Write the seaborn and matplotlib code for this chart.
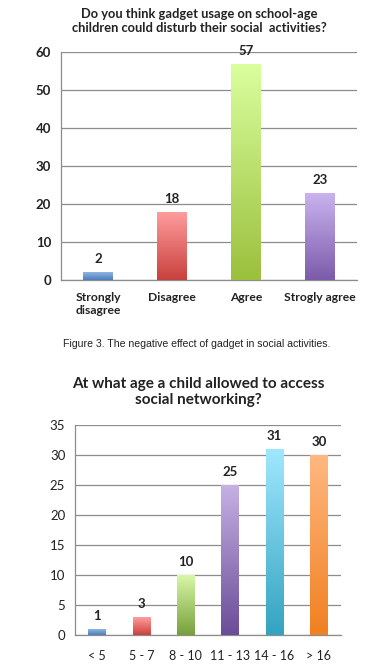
import matplotlib
matplotlib.use("Agg")
import matplotlib.pyplot as plt
import seaborn as sns
import pandas as pd
import numpy as np
from matplotlib.colors import LinearSegmentedColormap

# data
q1_labels = ["Strongly\ndisagree", "Disagree", "Agree", "Strogly agree"]
q1_values = [2, 18, 57, 23]

q2_labels = ["< 5", "5 - 7", "8 - 10", "11 - 13", "14 - 16", "> 16"]
q2_values = [1, 3, 10, 25, 31, 30]

# (top, bottom) colours of each bar gradient
q1_colors = [("#8EB4E3", "#4A7EBB"), ("#FF9E9E", "#C9413D"),
             ("#DAFF9E", "#9BC03D"), ("#CBB4F0", "#7B5BAA")]
q2_colors = [("#8EB4E3", "#4A7EBB"), ("#FF9E9E", "#C9413D"),
             ("#D9F7A8", "#77A03A"), ("#C6B1E3", "#6A4C98"),
             ("#A0E8FF", "#33A3C0"), ("#FFB880", "#F08020")]

sns.set_style("white")
plt.rcParams["font.family"] = ["Lato", "DejaVu Sans"]

GRID = "#8c8c8c"


def gradient_bars(ax, df, colors, ymax, step, tick_weight, fs, xfs, xpad):
    sns.barplot(data=df, x="cat", y="val", hue="cat", legend=False,
                palette=[c[1] for c in colors], width=0.4, ax=ax, zorder=2)
    grad = np.linspace(0, 1, 256).reshape(-1, 1)
    for patch, (top, bottom) in zip(ax.patches, colors):
        x0, y0 = patch.get_x(), patch.get_y()
        w, h = patch.get_width(), patch.get_height()
        cmap = LinearSegmentedColormap.from_list("g", [bottom, top])
        im = ax.imshow(grad, cmap=cmap, extent=[x0, x0 + w, y0, y0 + h],
                       origin="lower", aspect="auto", zorder=3)
        im.set_clip_path(patch)
        patch.set_alpha(0)
        ax.annotate(f"{h:.0f}", (x0 + w / 2, y0 + h), xytext=(0, 5),
                    textcoords="offset points", ha="center", va="bottom",
                    fontsize=fs, fontweight="bold", color="#222222")
    n = len(df)
    ax.set_xlim(-0.5, n - 0.5)
    ax.set_ylim(0, ymax)
    ax.set_yticks(np.arange(0, ymax + 1, step))
    ax.yaxis.grid(True, color=GRID, lw=0.9)
    ax.set_axisbelow(True)
    for s in ["top", "right"]:
        ax.spines[s].set_visible(False)
    for s in ["left", "bottom"]:
        ax.spines[s].set_color(GRID)
        ax.spines[s].set_linewidth(0.9)
    ax.set_xticks(np.arange(-0.5, n, 1), minor=True)
    ax.tick_params(axis="x", which="minor", length=4, color=GRID, direction="out")
    ax.tick_params(axis="x", which="major", length=0, pad=xpad, labelsize=xfs)
    ax.tick_params(axis="y", length=4, color=GRID, direction="out",
                   labelsize=fs, pad=3)
    for t in ax.get_xticklabels() + ax.get_yticklabels():
        t.set_fontweight(tick_weight)
        t.set_color("#222222")
    ax.set_xlabel("")
    ax.set_ylabel("")


fig = plt.figure(figsize=(3.92, 6.69), dpi=100)

ax1 = fig.add_axes([61 / 392, 1 - 280 / 669, 296 / 392, 227.7 / 669])
df1 = pd.DataFrame({"cat": q1_labels, "val": q1_values})
gradient_bars(ax1, df1, q1_colors, 60, 10, "bold", 9.5, 8.7, 9)
fig.text(199 / 392, 1 - 21 / 669,
         "Do you think gadget usage on school-age\nchildren could disturb their social  activities?",
         ha="center", va="center", fontsize=9.3, fontweight="bold",
         color="#222222", linespacing=1.1)

fig.text(197 / 392, 1 - 344 / 669,
         "Figure 3. The negative effect of gadget in social activities.",
         ha="center", va="center", fontsize=7.6, family="Liberation Sans",
         color="#222222")

ax2 = fig.add_axes([75 / 392, 1 - 635 / 669, 266 / 392, 209.7 / 669])
df2 = pd.DataFrame({"cat": q2_labels, "val": q2_values})
gradient_bars(ax2, df2, q2_colors, 35, 5, "normal", 9.5, 9, 11)
fig.text(198 / 392, 1 - 392 / 669,
         "At what age a child allowed to access\nsocial networking?",
         ha="center", va="center", fontsize=11, fontweight="bold",
         color="#222222", linespacing=1.2)

fig.savefig("out.png", dpi=100)
